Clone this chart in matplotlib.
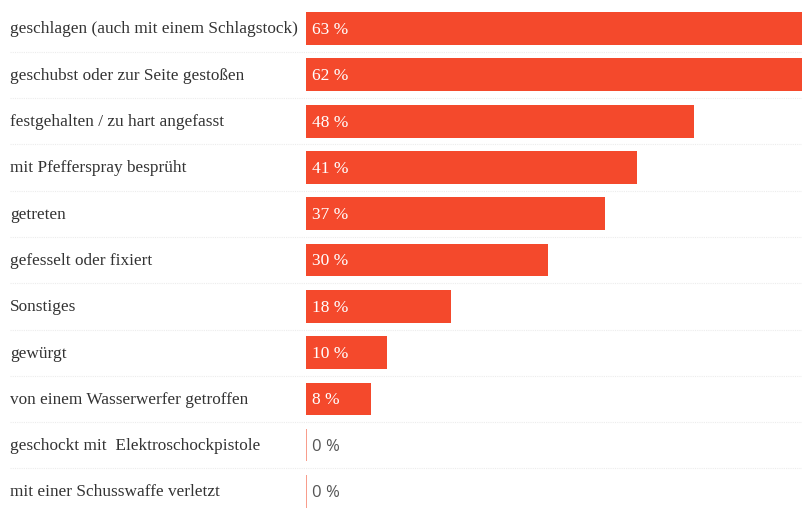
import matplotlib.pyplot as plt
from matplotlib.transforms import blended_transform_factory

labels = [
    'geschlagen (auch mit einem Schlagstock)',
    'geschubst oder zur Seite gestoßen',
    'festgehalten / zu hart angefasst',
    'mit Pfefferspray besprüht',
    'getreten',
    'gefesselt oder fixiert',
    'Sonstiges',
    'gewürgt',
    'von einem Wasserwerfer getroffen',
    'geschockt mit  Elektroschockpistole',
    'mit einer Schusswaffe verletzt',
]
values = [63, 62, 48, 41, 37, 30, 18, 10, 8, 0, 0]

bar_color = '#f4492c'
zero_color = '#f78a76'
serif = ['Liberation Serif', 'DejaVu Serif']

fig = plt.figure(figsize=(8.02, 5.30), dpi=100)
ax = fig.add_axes([306 / 802, 0, 1 - 306 / 802, 1])
ax.set_xlim(0, 61.4)
ax.set_ylim(10.83, -0.616)
ax.axis('off')

pos = list(range(len(values)))
ax.barh(pos, values, height=0.71, color=bar_color)

trans = blended_transform_factory(fig.transFigure, ax.transData)

for i, (lab, v) in enumerate(zip(labels, values)):
    ax.text(10 / 802, i + 0.02, lab, transform=trans, ha='left', va='center',
            fontsize=12.4, color='#333333', family=serif)
    if v > 0:
        ax.text(0.75, i + 0.03, f'{v} %', ha='left', va='center', fontsize=12.5,
                color='white', family=serif)
    else:
        ax.plot([0, 0], [i - 0.35, i + 0.35], color=zero_color, lw=1.2,
                solid_capstyle='butt')
        ax.text(0.75, i + 0.03, f'{v} %', ha='left', va='center', fontsize=12,
                color='#555555', family=['Open Sans', 'DejaVu Sans'])

# dotted row separators across the whole figure width
for i in range(len(values) - 1):
    ax.plot([10 / 802, 1], [i + 0.5, i + 0.5], transform=trans,
            color='#ececec', lw=0.8, ls=(0, (1, 1)), clip_on=False)

fig.savefig('out.png', dpi=100)
